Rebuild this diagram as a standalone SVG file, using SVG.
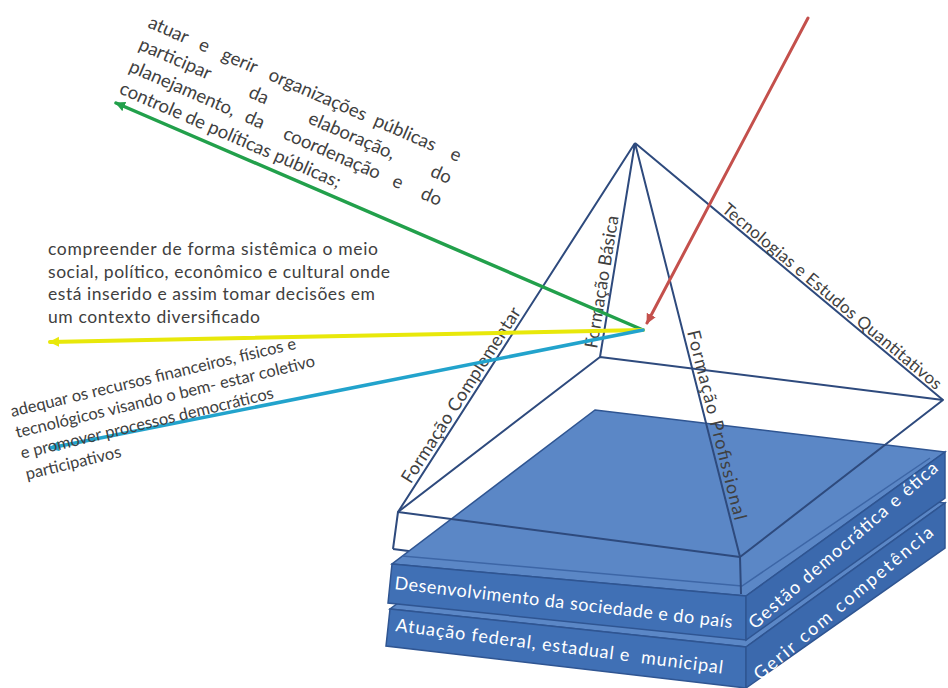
<svg xmlns="http://www.w3.org/2000/svg" width="948" height="688" viewBox="0 0 948 688">
<defs>
<style>
.t{font-family:Lato,"Liberation Sans",sans-serif;fill:#404040;}
.w{font-family:Lato,"Liberation Sans",sans-serif;fill:#ffffff;font-size:18px;}
.edge{fill:none;stroke:#2e4a7d;stroke-width:2;stroke-linejoin:round;}
.top{fill:#5b87c6;stroke:#2f5592;stroke-width:1.5;}
.front{fill:#4070b5;stroke:#2f5592;stroke-width:1.5;}
.right{fill:#3b69ad;stroke:#2f5592;stroke-width:1.5;}
.bevel{fill:none;stroke:#3d66a6;stroke-width:1.5;}
.arr{fill:none;stroke-linecap:round;}
</style>
<marker id="mr" markerUnits="userSpaceOnUse" markerWidth="14" markerHeight="12" refX="9" refY="5" orient="auto"><path d="M0,0 L10,5 L0,10 Z" fill="#c4504c"/></marker>
<marker id="mg" markerUnits="userSpaceOnUse" markerWidth="14" markerHeight="12" refX="9" refY="5" orient="auto"><path d="M0,0 L10,5 L0,10 Z" fill="#22a04b"/></marker>
<marker id="my" markerUnits="userSpaceOnUse" markerWidth="14" markerHeight="12" refX="9" refY="5" orient="auto"><path d="M0,0 L10,5 L0,10 Z" fill="#e8e80a"/></marker>
<marker id="mc" markerUnits="userSpaceOnUse" markerWidth="14" markerHeight="12" refX="9" refY="5" orient="auto"><path d="M0,0 L10,5 L0,10 Z" fill="#22a3cc"/></marker>
</defs>
<rect width="948" height="688" fill="#ffffff"/>

<g id="box-bottom">
<path class="edge" d="M393,549 L741,594"/>
</g>

<g id="slab-lower">
<polygon class="top" points="595,458 945,503 746,647 390,609"/>
<polygon class="front" points="390,609 746,647 746,688 386,646"/>
<polygon class="right" points="746,647 945,503 945,548 746,688"/>
<text class="w" x="395" y="631" transform="rotate(7.4 395 631)" textLength="330" xml:space="preserve">Atuação federal, estadual e  municipal</text>
<text class="w" x="760" y="681" transform="rotate(-40 760 681)" textLength="228">Gerir com competência</text>
</g>

<g id="slab-upper">
<polygon class="top" points="595,410 945,452 746,596 392,564"/>
<polyline class="bevel" points="402,556 742,586 930,458"/>
<polygon class="front" points="392,564 746,596 746,640 388,603"/>
<polygon class="right" points="746,596 945,452 945,498 746,640"/>
<text class="w" x="394" y="589" transform="rotate(6.6 394 589)" textLength="340">Desenvolvimento da sociedade e do país</text>
<text class="w" x="755" y="630" transform="rotate(-41 755 630)" textLength="244">Gestão democrática e ética</text>
</g>

<g id="pyramid">
<polygon class="edge" points="398,512 600,357 943,400 740,557"/>
<path class="edge" d="M398,512 L393,549 M740,557 L741,594"/>
<path class="edge" d="M635,143 L398,512 M635,143 L600,357 M635,143 L740,557 M635,143 L943,400"/>
<text class="t" x="410.8" y="484.6" font-size="18" transform="rotate(-57.3 410.8 484.6)" textLength="205">Formação Complementar</text>
<text class="t" x="597" y="349" font-size="18" transform="rotate(-80.7 597 349)" textLength="134">Formação Básica</text>
<text class="t" x="687" y="332" font-size="18" transform="rotate(75.8 687 332)" textLength="195">Formação Profissional</text>
<text class="t" x="721" y="211" font-size="17" transform="rotate(39.85 721 211)" textLength="280">Tecnologias e Estudos Quantitativos</text>
</g>

<g id="connectors">
<path class="arr" d="M808,18 L647,323" stroke="#c4504c" stroke-width="3" marker-end="url(#mr)"/>
<path class="arr" d="M643,330 L116,103" stroke="#22a04b" stroke-width="3.5" marker-end="url(#mg)"/>
<path class="arr" d="M643,330 L50,342" stroke="#e8e80a" stroke-width="4" marker-end="url(#my)"/>
<path class="arr" d="M643,330 L50,448" stroke="#22a3cc" stroke-width="3.5" marker-end="url(#mc)"/>
</g>

<g id="text-top" class="t" font-size="18.5" transform="translate(147 27) rotate(23.5)">
<text y="0"><tspan x="0">atuar</tspan><tspan x="55">e</tspan><tspan x="80">gerir</tspan><tspan x="131">organizações</tspan><tspan x="246">públicas</tspan><tspan x="339" text-anchor="end">e</tspan></text>
<text y="24"><tspan x="0">participar</tspan><tspan x="120">da</tspan><tspan x="185">elaboração,</tspan><tspan x="339" text-anchor="end">do</tspan></text>
<text y="48"><tspan x="0">planejamento,</tspan><tspan x="126">da</tspan><tspan x="168">coordenação</tspan><tspan x="287">e</tspan><tspan x="339" text-anchor="end">do</tspan></text>
<text y="72"><tspan x="0">controle de políticas públicas;</tspan></text>
</g>

<g id="text-middle" class="t" font-size="17.5">
<text x="48" y="255" textLength="330">compreender de forma sistêmica o meio</text>
<text x="48" y="277.5" textLength="342">social, político, econômico e cultural onde</text>
<text x="48" y="300" textLength="327">está inserido e assim tomar decisões em</text>
<text x="48" y="322.5" textLength="212">um contexto diversificado</text>
</g>

<g id="text-bottom" class="t" font-size="16.5" transform="translate(12 417) rotate(-13.5)">
<text x="0" y="0">adequar os recursos financeiros, físicos e</text>
<text x="0" y="21.5">tecnológicos visando o bem- estar coletivo</text>
<text x="0" y="43">e promover processos democráticos</text>
<text x="0" y="64.5">participativos</text>
</g>
</svg>
